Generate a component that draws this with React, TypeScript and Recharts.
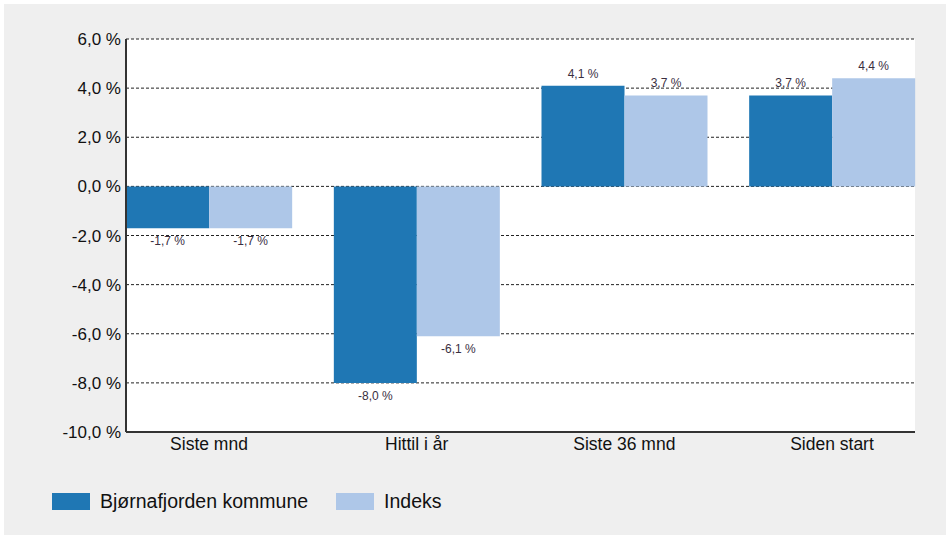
import React from 'react';
import { BarChart, Bar, XAxis, YAxis, CartesianGrid, LabelList } from 'recharts';

const categories = ['Siste mnd', 'Hittil i år', 'Siste 36 mnd', 'Siden start'];
const kommune = [-1.7, -8.0, 4.1, 3.7];
const indeks = [-1.7, -6.1, 3.7, 4.4];
const yTicks = [-10, -8, -6, -4, -2, 0, 2, 4, 6];

const series = [
  { key: 'kommune', name: 'Bjørnafjorden kommune', color: '#1f77b4' },
  { key: 'indeks', name: 'Indeks', color: '#aec7e8' },
];

const data = categories.map((name, i) => ({ name, kommune: kommune[i], indeks: indeks[i] }));

const FONT = '"Liberation Sans", Arial, sans-serif';

const fmt = (v: number) => `${v.toFixed(1).replace('.', ',')} %`;

const ValueLabel = (props: any) => {
  const { x, y, width, height, value } = props;
  const top = Math.min(y, y + height);
  const bottom = Math.max(y, y + height);
  const ty = value >= 0 ? top - 8 : bottom + 17;
  return (
    <text x={x + width / 2} y={ty} textAnchor="middle" fontSize={12} fill="#3a2f3f" fontFamily={FONT}>
      {fmt(value)}
    </text>
  );
};

export default function App() {
  return (
    <div style={{ position: 'absolute', left: 0, top: 0, width: 951, height: 539, background: '#fff' }}>
      <div style={{ position: 'absolute', left: 4, top: 4, width: 942, height: 531, background: '#efefef' }}>
        <BarChart
          width={942}
          height={531}
          data={data}
          margin={{ top: 35, right: 31, left: 0, bottom: 73 }}
          barGap={0}
          barSize={83}
        >
          <CartesianGrid vertical={false} stroke="#222" strokeDasharray="3 2" fill="#fff" fillOpacity={1} />
          <XAxis
            dataKey="name"
            padding={{ left: -20.83, right: -20.83 }}
            tickLine={false}
            tickSize={0}
            tickMargin={6}
            height={30}
            axisLine={{ stroke: '#333', strokeWidth: 2 }}
            tick={{ fontSize: 17.5, fill: '#111', fontFamily: FONT }}
          />
          <YAxis
            width={122}
            domain={[-10, 6]}
            ticks={yTicks}
            interval={0}
            tickFormatter={fmt}
            tickLine={false}
            tickSize={0}
            tickMargin={5}
            axisLine={{ stroke: '#333', strokeWidth: 2 }}
            tick={{ fontSize: 17, fill: '#111', fontFamily: FONT }}
          />
          {series.map((s) => (
            <Bar key={s.key} dataKey={s.key} name={s.name} fill={s.color} isAnimationActive={false}>
              <LabelList dataKey={s.key} content={ValueLabel} />
            </Bar>
          ))}
        </BarChart>
        <div style={{ position: 'absolute', left: 48, top: 485, height: 24, display: 'flex', alignItems: 'center', fontFamily: FONT, fontSize: 19.5, color: '#111' }}>
          {series.map((s, i) => (
            <div key={s.key} style={{ display: 'flex', alignItems: 'center', marginRight: i === 0 ? 28 : 0 }}>
              <div style={{ width: 38, height: 17, background: s.color, marginRight: 10 }} />
              <span>{s.name}</span>
            </div>
          ))}
        </div>
      </div>
    </div>
  );
}
